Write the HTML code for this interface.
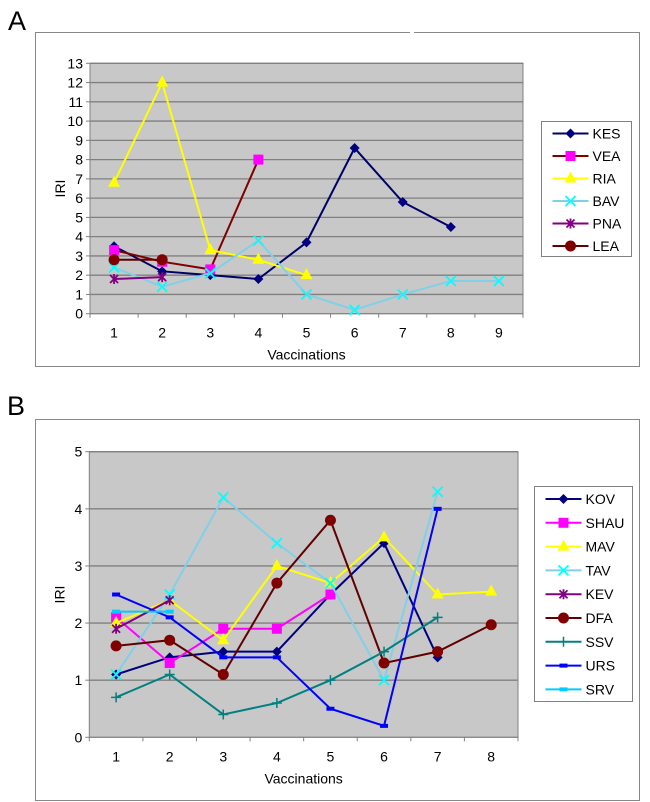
<!DOCTYPE html>
<html><head><meta charset="utf-8"><style>
body{margin:0;background:#fff;width:650px;height:802px;overflow:hidden;font-family:"Liberation Sans",Arial,sans-serif}
svg{position:absolute;left:0;top:0}
</style></head><body>
<svg id="s" width="650" height="802">
<text x="8" y="30" font-size="27">A</text>
<text x="7" y="415" font-size="27">B</text>
<rect x="35.5" y="32.5" width="604" height="334" fill="none" stroke="#888"/>
<line x1="410" y1="32.5" x2="414" y2="32.5" stroke="#fff" stroke-width="2"/>
<rect x="35.5" y="419.5" width="604" height="381" fill="none" stroke="#888"/>
<g id="ga"></g>
<g id="gb"></g>
</svg>
<script>
const catsA=[1,2,3,4,5,6,7,8,9];
const ticksA=[0,1,2,3,4,5,6,7,8,9,10,11,12,13];
const namesA=["KES","VEA","RIA","BAV","PNA","LEA"];
const KES=[3.5,2.2,2.0,1.8,3.7,8.6,5.8,4.5];
const VEA=[3.3,2.7,2.3,8.0];
const RIA=[6.8,12,3.3,2.8,2.0];
const BAV=[2.4,1.4,2.1,3.8,1.0,0.2,1.0,1.7,1.7];
const PNA=[1.8,1.9];
const LEA=[2.8,2.8];
const catsB=[1,2,3,4,5,6,7,8];
const ticksB=[0,1,2,3,4,5];
const namesB=["KOV","SHAU","MAV","TAV","KEV","DFA","SSV","URS","SRV"];
const KOV=[1.1,1.4,1.5,1.5,2.5,3.4,1.4];
const SHAU=[2.1,1.3,1.9,1.9,2.5];
const MAV=[2.0,2.4,1.7,3.0,2.7,3.5,2.5,2.55];
const TAV=[1.1,2.5,4.2,3.4,2.7,1.0,4.3];
const KEV=[1.9,2.4];
const DFA=[1.6,1.7,1.1,2.7,3.8,1.3,1.5,1.97];
const SSV=[0.7,1.1,0.4,0.6,1.0,1.5,2.1];
const URS=[2.5,2.1,1.4,1.4,0.5,0.2,4.0];
const SRV=[2.2,2.2];

const NS="http://www.w3.org/2000/svg";
function mk(p,t,a){const e=document.createElementNS(NS,t);for(const k in a)e.setAttribute(k,a[k]);p.appendChild(e);return e;}
function marker(g,type,x,y,fill,stroke){
 let e;
 if(type=="diamond")e=mk(g,"polygon",{points:`${x},${y-5} ${x+5},${y} ${x},${y+5} ${x-5},${y}`,fill:fill});
 else if(type=="square")e=mk(g,"rect",{x:x-5,y:y-5,width:10,height:10,fill:fill});
 else if(type=="tri")e=mk(g,"polygon",{points:`${x},${y-7} ${x+6},${y+4} ${x-6},${y+4}`,fill:fill});
 else if(type=="x")e=mk(g,"path",{d:`M${x-5},${y-5}L${x+5},${y+5}M${x+5},${y-5}L${x-5},${y+5}`,stroke:fill,"stroke-width":1.8,fill:"none"});
 else if(type=="star")e=mk(g,"path",{d:`M${x-4},${y-4}L${x+4},${y+4}M${x+4},${y-4}L${x-4},${y+4}M${x},${y-5}L${x},${y+5}`,stroke:fill,"stroke-width":1.8,fill:"none"});
 else if(type=="circle")e=mk(g,"circle",{cx:x,cy:y,r:5.5,fill:fill});
 else if(type=="plus")e=mk(g,"path",{d:`M${x-5},${y}L${x+5},${y}M${x},${y-5}L${x},${y+5}`,stroke:fill,"stroke-width":1.5,fill:"none"});
 else if(type=="dash")e=mk(g,"rect",{x:x-4,y:y-2,width:8,height:4,fill:fill});
 
 
}
function chart(g,cfg){
 const {L,R,T,B,ymax,cats,ticks,series,leg}=cfg;
 const cw=(R-L)/cats.length;
 const xs=i=>L+cw*(i+0.5);
 const ys=v=>B-(B-T)*v/ymax;
 const bg=mk(g,"rect",{x:L,y:T,width:R-L,height:B-T,fill:"#c8c8c8",stroke:"#808080"});
 
 
 ticks.forEach(t=>{
  const y=ys(t);
  if(t>0){const gl=mk(g,"line",{x1:L,x2:R,y1:y,y2:y,stroke:"#808080","stroke-width":1.3});
  
  }
  mk(g,"line",{x1:L-4,x2:L,y1:y,y2:y,stroke:"#808080"});
  const tx=mk(g,"text",{x:L-7,y:y+5,"text-anchor":"end","font-size":14});tx.textContent=t;
  
  
 });
 mk(g,"line",{x1:L,x2:R,y1:B,y2:B,stroke:"#808080"});
 cats.forEach((c,i)=>{
  mk(g,"line",{x1:L+cw*i,x2:L+cw*i,y1:B,y2:B+4,stroke:"#808080"});
  const tx=mk(g,"text",{x:xs(i),y:B+24,"text-anchor":"middle","font-size":14});tx.textContent=c;
  
  
 });
 mk(g,"line",{x1:R,x2:R,y1:B,y2:B+4,stroke:"#808080"});
 const xt=mk(g,"text",{x:(L+R)/2,y:B+46,"text-anchor":"middle","font-size":14});xt.textContent="Vaccinations";
 
 
 const yt=mk(g,"text",{x:0,y:0,"text-anchor":"middle","font-size":14,transform:`translate(${L-25},${(T+B)/2}) rotate(-90)`});yt.textContent="IRI";
 
 
 series.forEach(s=>{
  const sg=mk(g,"g",{});
  
  
  mk(sg,"polyline",{points:s.data.map((v,i)=>xs(i)+","+ys(v)).join(" "),fill:"none",stroke:s.line,"stroke-width":2});
  s.data.forEach((v,i)=>marker(sg,s.m,xs(i),ys(v),s.mc));
 });
 const lb=mk(g,"rect",{x:leg.x,y:leg.y,width:leg.w,height:leg.h,fill:"#fff",stroke:"#808080"});
 
 
 series.forEach((s,i)=>{
  const y=leg.y+leg.first+i*leg.step;
  const lg=mk(g,"g",{});
  
  
  mk(lg,"line",{x1:leg.x+11,x2:leg.x+47,y1:y,y2:y,stroke:s.line,"stroke-width":2});
  marker(lg,s.m,leg.x+29,y,s.mc);
  const t=mk(lg,"text",{x:leg.x+51,y:y+5,"font-size":14});t.textContent=s.name;
 });
}
const dA=[KES,VEA,RIA,BAV,PNA,LEA];
const stA=[["#000066","#000080","diamond"],["#800000","#ff00ff","square"],["#ffff00","#ffff00","tri"],["#80d0e8","#00ffff","x"],["#800080","#800080","star"],["#600000","#800000","circle"]];
chart(document.getElementById("ga"),{L:90,R:523,T:63.3,B:313.7,ymax:13,cats:catsA,ticks:ticksA,
 series:namesA.map((n,i)=>({name:n,data:dA[i],line:stA[i][0],mc:stA[i][1],m:stA[i][2]})),
 leg:{x:541.5,y:121.5,w:90,h:135,first:12,step:22.5}});
const dB=[KOV,SHAU,MAV,TAV,KEV,DFA,SSV,URS,SRV];
const stB=[["#000080","#000080","diamond"],["#ff00ff","#ff00ff","square"],["#ffff00","#ffff00","tri"],["#80d0e8","#00ffff","x"],["#800080","#800080","star"],["#600000","#800000","circle"],["#008080","#008080","plus"],["#0000ff","#0000ff","dash"],["#00ccff","#00ccff","dash"]];
chart(document.getElementById("gb"),{L:89.3,R:518,T:451.7,B:737.3,ymax:5,cats:catsB,ticks:ticksB,
 series:namesB.map((n,i)=>({name:n,data:dB[i],line:stB[i][0],mc:stB[i][1],m:stB[i][2]})),
 leg:{x:534.5,y:486.5,w:98,h:215,first:12.5,step:23.8}});
</script>
</body></html>
